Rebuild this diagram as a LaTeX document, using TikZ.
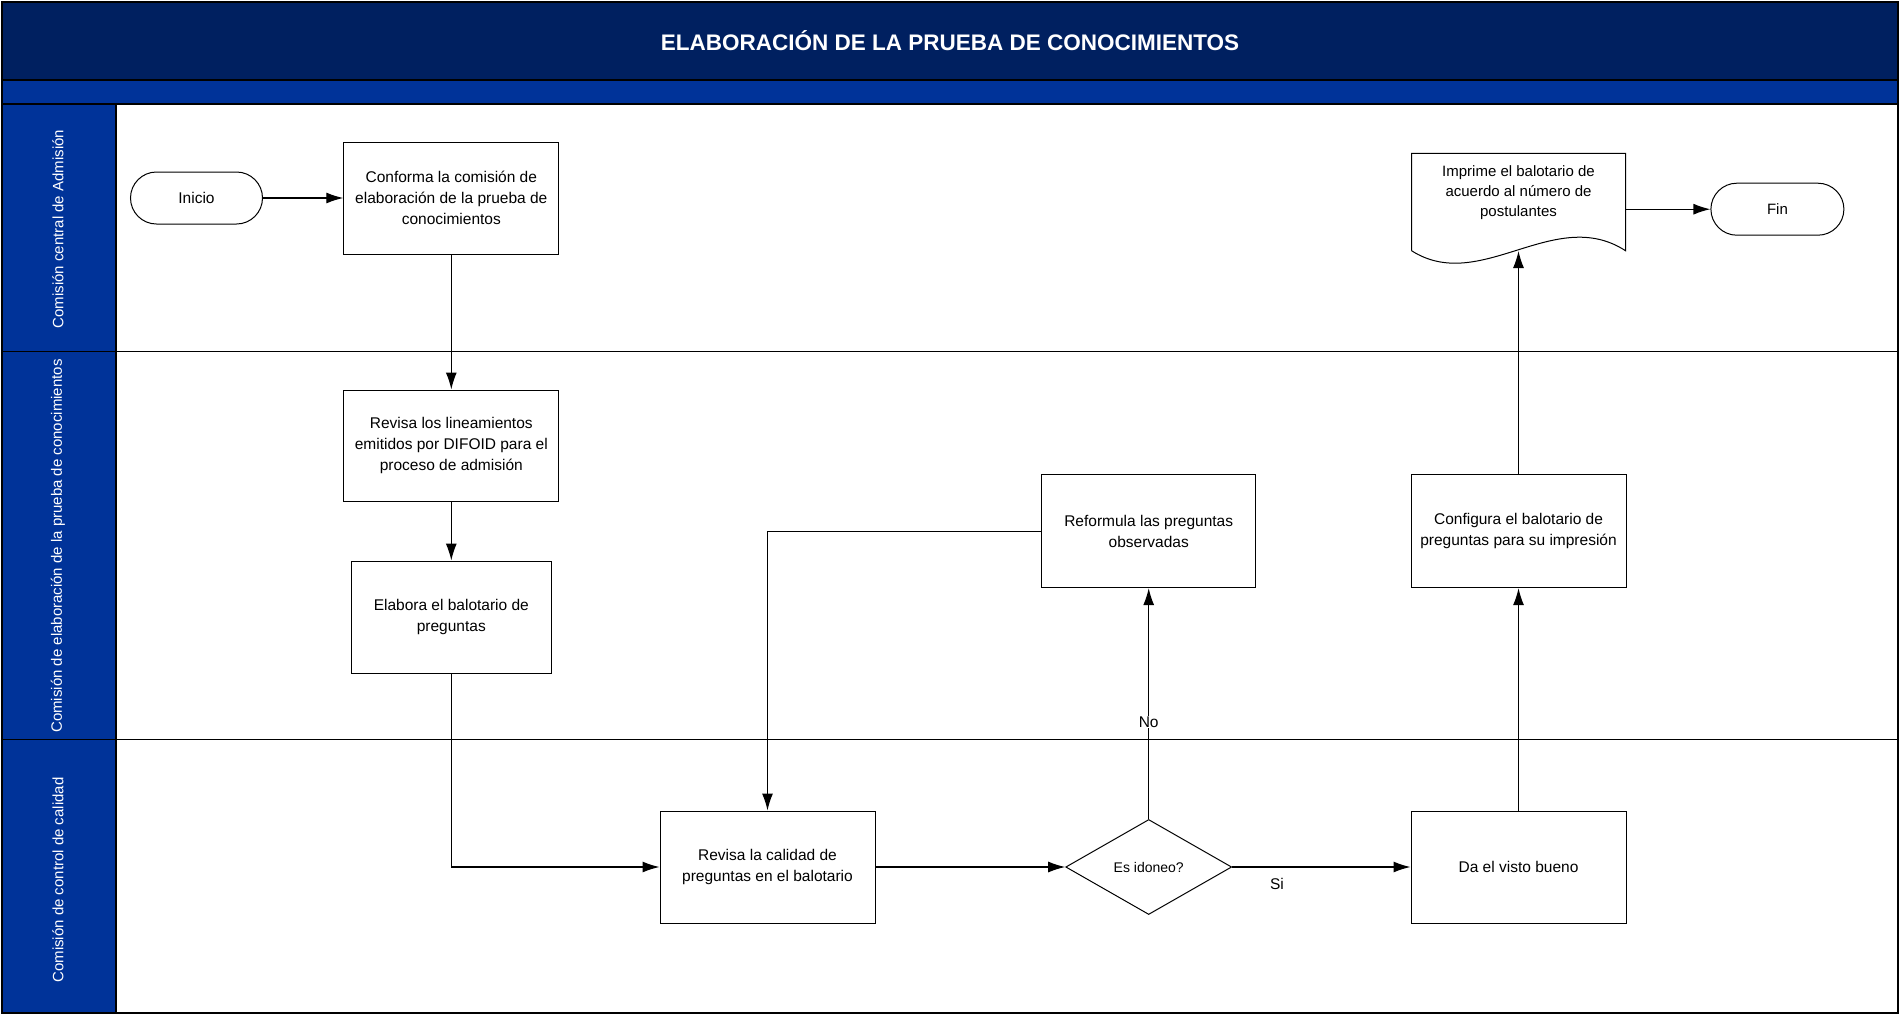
\documentclass[tikz,border=0pt]{standalone}
\usepackage{fontspec}
\setmainfont{Liberation Sans}
\usetikzlibrary{shapes.geometric,arrows.meta,calc}
\definecolor{navy}{RGB}{0,32,96}
\definecolor{laneblue}{RGB}{0,51,153}
\tikzset{
  proc/.style={draw=black, line width=1pt, fill=white, minimum width=215pt, minimum height=112pt,
    align=center, font=\fontsize{15.5}{21}\selectfont, inner sep=2pt},
  term/.style={draw=black, line width=1pt, fill=white, rounded corners=26pt, minimum width=132pt,
    minimum height=52pt, font=\fontsize{15.5}{21}\selectfont},
  decis/.style={draw=black, line width=1pt, fill=white, diamond, aspect=1.75, inner sep=0pt,
    minimum width=166pt, minimum height=95pt, font=\fontsize{14}{18}\selectfont},
  doctext/.style={align=center, minimum width=214pt, inner sep=0pt, font=\fontsize{15}{20}\selectfont},
  arr/.style={line width=1.2pt, -{Latex[length=17pt,width=11pt]}},
  lbl/.style={font=\fontsize{15.5}{18}\selectfont},
  lanelbl/.style={rotate=90, text=white, font=\fontsize{15}{18}\selectfont},
  border/.style={draw=black, line width=1.2pt}
}
\begin{document}
\begin{tikzpicture}[x=1pt,y=-1pt]
\useasboundingbox (0,0) rectangle (1900,1015);
% frame and bands
\fill[white] (0,0) rectangle (1900,1015);
\fill[navy] (2,2) rectangle (1898,80);
\fill[laneblue] (2,80) rectangle (1898,104);
\fill[laneblue] (2,104) rectangle (116,1013);
\draw[border] (2,80) -- (1898,80);
\draw[border] (2,104) -- (1898,104);
\draw[border] (2,351.5) -- (1898,351.5);
\draw[border] (2,739.5) -- (1898,739.5);
\draw[border] (116,104) -- (116,1013);
\draw[border] (2,2) rectangle (1898,1013);
\node[text=white, font=\bfseries\fontsize{22.5}{26}\selectfont] (title) at (950,41) {ELABORACIÓN DE LA PRUEBA DE CONOCIMIENTOS};
\node[lanelbl] (lane1) at (58,229) {Comisión central de Admisión};
\node[lanelbl] (lane2) at (58,546) {Comisión de elaboración de la prueba de conocimientos};
\node[lanelbl] (lane3) at (58,880) {Comisión de control de calidad};

% nodes
\node[term] (ini) at (196.5,198) {Inicio};
\node[proc] (conf1) at (451.3,198) {Conforma la comisión de\\elaboración de la prueba de\\conocimientos};
\node[proc, minimum height=111.6pt] (rev) at (451.3,445.8) {Revisa los lineamientos\\emitidos por DIFOID para el\\proceso de admisión};
\node[proc, minimum width=200pt, minimum height=112.7pt] (elab) at (451.3,617.4) {Elabora el balotario de\\preguntas};
\node[proc] (cal) at (767.5,867) {Revisa la calidad de\\preguntas en el balotario};
\node[decis] (dia) at (1148.7,867) {Es idoneo?};
\node[proc] (da) at (1518.5,867) {Da el visto bueno};
\node[proc, minimum width=214pt, minimum height=112.7pt] (ref) at (1148.7,531.3) {Reformula las preguntas\\observadas};
\node[proc, minimum height=112.7pt] (cfg) at (1518.5,531.3) {Configura el balotario de\\preguntas para su impresión};
\node[term, minimum width=133pt, font=\fontsize{15}{20}\selectfont] (fin) at (1777.4,209.2) {Fin};

% document shape (Imprime)
\coordinate (dNW) at (1411.5,153.3);
\coordinate (dNE) at (1625.5,153.3);
\coordinate (dSE) at (1625.5,250.7);
\coordinate (dSW) at (1411.5,250.7);
\coordinate (impb) at (1518.5,251);
\draw[line width=1pt, fill=white] (dSW) -- (dNW) -- (dNE) -- (dSE)
  .. controls ($(dSE)+(-71,-46)$) and ($(dSW)+(69,44)$) .. (dSW);
\node[doctext] (imp) at (1518.5,193) {Imprime el balotario de\\acuerdo al número de\\postulantes};

% connectors
\draw[arr] (ini.east) -- (conf1.west);
\draw[arr] (conf1.south) -- (rev.north);
\draw[arr] (rev.south) -- (elab.north);
\draw[arr] (elab.south) |- (cal.west);
\draw[arr] (cal.east) -- (dia.west);
\draw[arr] (dia.east) -- (da.west);
\node[lbl] (si) at (1277,884) {Si};
\draw[arr] (dia.north) -- (ref.south);
\node[lbl, fill=white, inner sep=1pt] (no) at (1148.7,722) {No};
\draw[arr] (ref.west) -| (cal.north);
\draw[arr] (da.north) -- (cfg.south);
\draw[arr] (cfg.north) -- (impb);
\draw[arr] (dSE |- fin.west) -- (fin.west);
\end{tikzpicture}
\end{document}
